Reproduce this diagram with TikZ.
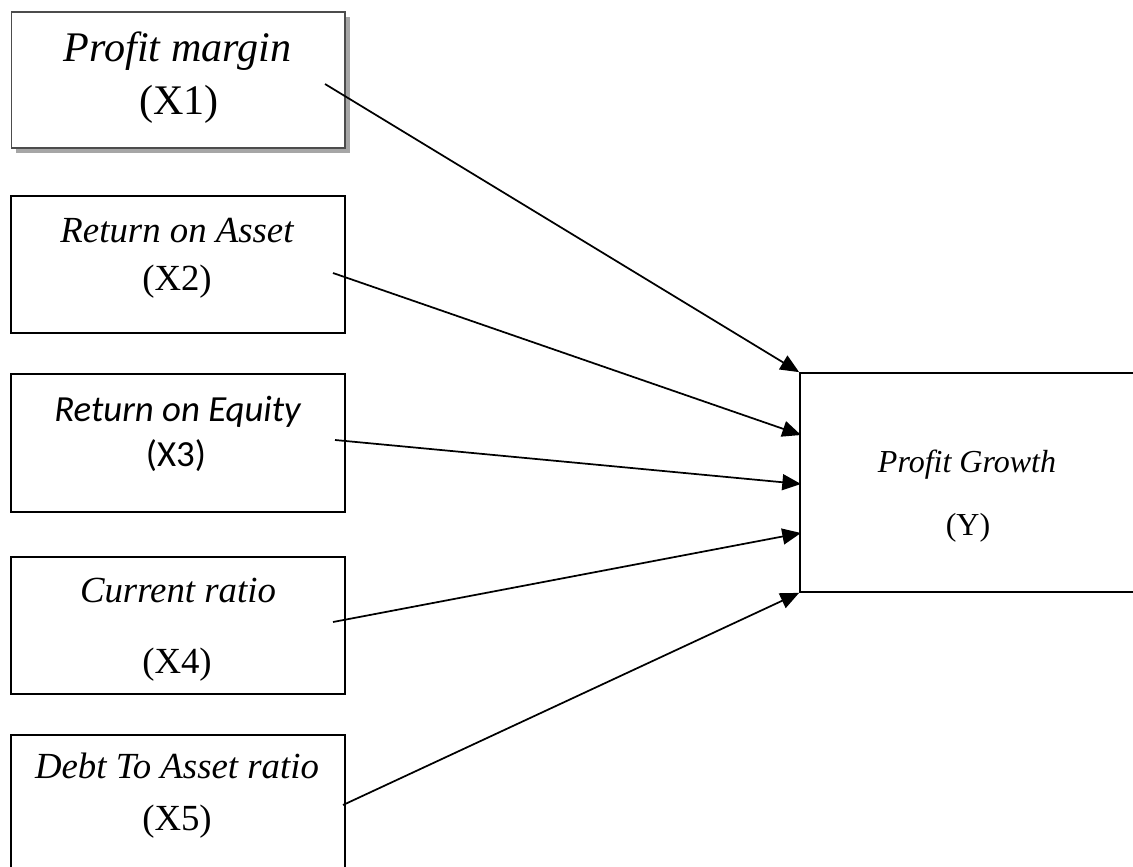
\documentclass[tikz,border=0pt]{standalone}
\usepackage{fontspec}
\setmainfont{Liberation Serif}
\newfontfamily\calibrifont{Carlito}
\usetikzlibrary{arrows.meta,shadows}
\begin{document}
\begin{tikzpicture}[x=0.75pt,y=-0.75pt,
  box/.style={draw=black,line width=1.3pt,rectangle,inner sep=0pt,minimum width=250.5pt},
  lbl/.style={anchor=base,inner sep=0pt,font=\fontsize{27.6}{33}\selectfont\itshape},
  num/.style={anchor=base,inner sep=0pt,font=\fontsize{27.6}{33}\selectfont},
  big/.style={anchor=base,inner sep=0pt,font=\fontsize{31.6}{38}\selectfont\itshape},
  bignum/.style={anchor=base,inner sep=0pt,font=\fontsize{31.6}{38}\selectfont},
  ylbl/.style={anchor=base,inner sep=0pt,font=\fontsize{24}{29}\selectfont\itshape},
  ynum/.style={anchor=base,inner sep=0pt,font=\fontsize{24}{29}\selectfont},
  arr/.style={line width=1.3pt,-{Triangle[length=14pt,width=12pt]}}
]
\useasboundingbox (0,0) rectangle (1133,867);
\clip (0,0) rectangle (1133,867);
% boxes
\node[box,line width=1.1pt,draw=black!70,minimum width=250.1pt,minimum height=102pt,fill=white,
  drop shadow={shadow xshift=3.5pt,shadow yshift=-3.5pt,fill=black!35,opacity=1}] (b1) at (178.25,80) {};
\node[box,minimum height=102.75pt] (b2) at (178,264.5) {};
\node[box,minimum height=103.5pt] (b3) at (178,443) {};
\node[box,minimum height=102.75pt] (b4) at (178,625.5) {};
\node[box,minimum height=123.75pt] (b5) at (178,817.5) {};
\node[box,minimum width=262.5pt,minimum height=164.25pt] (y) at (975,482.5) {};
% texts
\node[big] (t1a) at (177.5,62) {Profit margin};
\node[bignum] (t1b) at (179,115) {(X1)};
\node[lbl] (t2a) at (177,242) {Return on Asset};
\node[num] (t2b) at (177,290) {(X2)};
\node[lbl,font=\fontsize{27.6}{33}\calibrifont\itshape] (t3a) at (177.5,421) {Return on Equity};
\node[num,font=\fontsize{27.6}{33}\calibrifont] (t3b) at (176,466) {(X3)};
\node[lbl] (t4a) at (178,602) {Current ratio};
\node[num] (t4b) at (177,673) {(X4)};
\node[lbl] (t5a) at (177,778) {Debt To Asset ratio};
\node[num] (t5b) at (177,830) {(X5)};
\node[ylbl] (ya) at (967,472) {Profit Growth};
\node[ynum] (yb) at (968,535) {(Y)};
% arrow ends
\coordinate (s1) at (325,84);
\coordinate (s2) at (333,273);
\coordinate (s3) at (335,440);
\coordinate (s4) at (333,622);
\coordinate (s5) at (343,805);
\coordinate (e2) at (801,435);
\coordinate (e3) at (801,484);
\coordinate (e4) at (801,533);
\draw[arr] (s1) -- (y.north west);
\draw[arr] (s2) -- (e2);
\draw[arr] (s3) -- (e3);
\draw[arr] (s4) -- (e4);
\draw[arr] (s5) -- (y.south west);
\end{tikzpicture}
\end{document}
